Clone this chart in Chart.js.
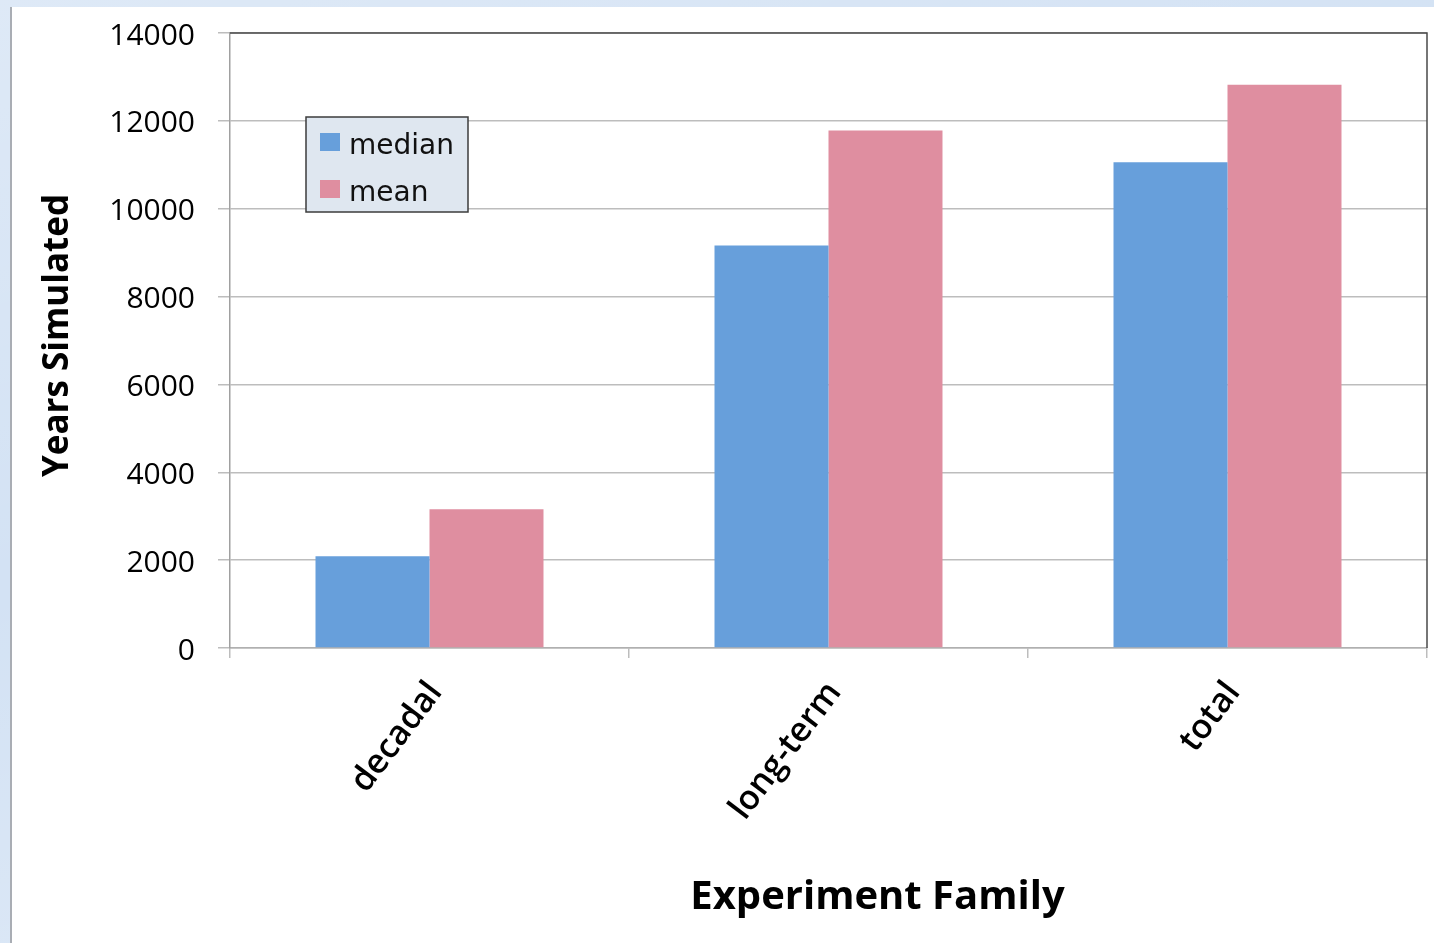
<!DOCTYPE html>
<html>
<head>
<meta charset="utf-8">
<title>Years Simulated by Experiment Family</title>
<script src="https://cdn.jsdelivr.net/npm/chart.js@4/dist/chart.umd.min.js"></script>
<style>
  html, body { margin: 0; padding: 0; width: 1434px; height: 943px; overflow: hidden; }
  body {
    background-color: #d3e2f4;
    background-image:
      linear-gradient(160deg, rgba(255,255,255,0.25), rgba(255,255,255,0) 40%, rgba(255,255,255,0.2) 70%, rgba(255,255,255,0));
  }
  #panel {
    position: absolute; left: 10px; top: 7px; right: 0; bottom: 0;
    background: #ffffff; border-left: 2px solid #a9adb4;
  }
  #wrap { position: absolute; left: 0; top: 0; width: 1434px; height: 943px; }
</style>
</head>
<body>
<div id="panel"></div>
<div id="wrap"><canvas id="chart" width="1434" height="943"></canvas></div>
<script>
// Experiment families and simulated years per family
const categories = ['decadal', 'long-term', 'total'];
const seriesNames = ['median', 'mean'];
const medianYears = [2090, 9160, 11060];
const meanYears = [3160, 11780, 12820];
const yMin = 0;
const yMax = 14000;
const yStep = 2000;
const xTitle = 'Experiment Family';
const yTitle = 'Years Simulated';

const BLUE = '#679fdb';
const PINK = '#df8ea0';
const GRID = '#bdbdbd';
const TICK_FONT = { family: '"Open Sans", sans-serif', size: 30 };

// Dark frame along the top and right edges of the plot area
const plotFrame = {
  id: 'plotFrame',
  afterDatasetsDraw(chart) {
    const { ctx, chartArea: a } = chart;
    ctx.save();
    ctx.strokeStyle = '#4a4a4a';
    ctx.lineWidth = 1.5;
    ctx.beginPath();
    ctx.moveTo(a.left, a.top);
    ctx.lineTo(a.right, a.top);
    ctx.lineTo(a.right, a.bottom);
    ctx.stroke();
    ctx.restore();
  }
};

// Boxed legend inside the upper-left of the plot area
const boxLegend = {
  id: 'boxLegend',
  afterDraw(chart) {
    const { ctx, chartArea: a } = chart;
    const x0 = a.left + 76, y0 = a.top + 84, w = 162, h = 95;
    ctx.save();
    ctx.fillStyle = '#dfe7f0';
    ctx.fillRect(x0, y0, w, h);
    ctx.strokeStyle = '#3c3c3c';
    ctx.lineWidth = 1.5;
    ctx.strokeRect(x0, y0, w, h);
    ctx.font = '28px "DejaVu Sans", sans-serif';
    ctx.textBaseline = 'middle';
    ctx.textAlign = 'left';
    chart.data.datasets.forEach((ds, i) => {
      const cy = y0 + 25 + i * 47;
      ctx.fillStyle = ds.backgroundColor;
      ctx.fillRect(x0 + 14, cy - 9, 20, 18);
      ctx.fillStyle = '#111111';
      ctx.fillText(ds.label, x0 + 43, cy + 5);
    });
    ctx.restore();
  }
};

// Axis titles
const axisTitles = {
  id: 'axisTitles',
  afterDraw(chart) {
    const { ctx, chartArea: a } = chart;
    ctx.save();
    ctx.fillStyle = '#000000';
    ctx.textAlign = 'center';
    ctx.textBaseline = 'middle';
    ctx.font = 'bold 40px "Open Sans", sans-serif';
    ctx.fillText(xTitle, (a.left + a.right) / 2 + 49, 898);
    ctx.translate(58, (a.top + a.bottom) / 2 - 5);
    ctx.rotate(-Math.PI / 2);
    ctx.font = 'bold 35px "Open Sans", sans-serif';
    ctx.fillText(yTitle, 0, 0);
    ctx.restore();
  }
};

new Chart(document.getElementById('chart'), {
  type: 'bar',
  data: {
    labels: categories,
    datasets: [
      { label: seriesNames[0], data: medianYears, backgroundColor: BLUE },
      { label: seriesNames[1], data: meanYears, backgroundColor: PINK }
    ]
  },
  options: {
    responsive: false,
    animation: false,
    devicePixelRatio: 1,
    layout: { padding: { left: 11, top: 33, right: 7, bottom: 0 } },
    datasets: { bar: { categoryPercentage: 0.5714, barPercentage: 1.0, borderWidth: 0 } },
    plugins: {
      legend: { display: false },
      tooltip: { enabled: false }
    },
    scales: {
      x: {
        grid: { offset: true, drawOnChartArea: false, drawTicks: true, tickLength: 10, color: GRID, lineWidth: 1.5 },
        border: { display: true, color: '#b0b0b0', width: 1.5 },
        ticks: {
          autoSkip: false, maxRotation: 53, minRotation: 53,
          font: { family: '"Open Sans", sans-serif', size: 34, weight: '600' },
          color: '#000000', padding: 16, labelOffset: 6
        },
        afterFit(scale) { scale.height = 943 - 648; }
      },
      y: {
        min: yMin, max: yMax,
        grid: { color: GRID, lineWidth: 1.5, tickLength: 12, drawTicks: true },
        border: { display: true, color: '#a0a0a0', width: 1.5 },
        ticks: {
          stepSize: yStep, padding: 23, font: TICK_FONT, color: '#000000', labelOffset: 3,
          callback: (v) => String(v)
        },
        afterFit(scale) {
          scale.width = 230 - 11;
          scale.paddingTop = 0;
          scale.paddingBottom = 0;
        }
      }
    }
  },
  plugins: [plotFrame, boxLegend, axisTitles]
});
</script>
</body>
</html>
